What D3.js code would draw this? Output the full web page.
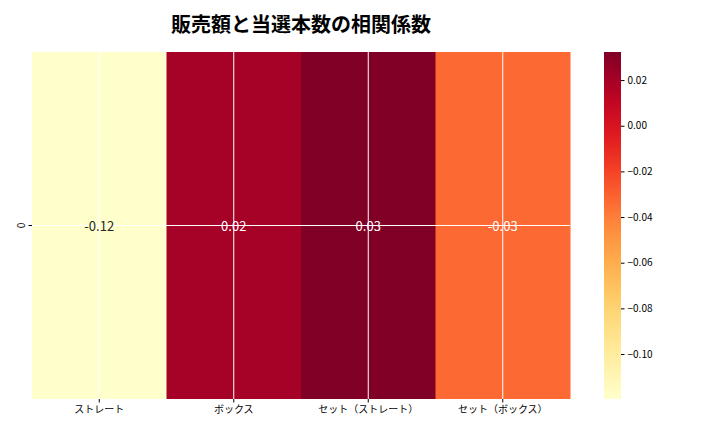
<!DOCTYPE html>
<html>
<head>
<meta charset="utf-8">
<script src="https://cdn.jsdelivr.net/npm/d3@7"></script>
<style>
  body { margin: 0; background: #fff; }
  text { font-family: "Noto Sans CJK JP", "Noto Sans", sans-serif; }
</style>
</head>
<body>
<div id="chart"></div>
<script>
// heatmap of correlation coefficients: one row, four columns
const title = '販売額と当選本数の相関係数'
const categories = ['ストレート', 'ボックス', 'セット（ストレート）', 'セット（ボックス）']
const rowLabels = ['0']
const values = [-0.1197, 0.0201, 0.0323, -0.0330]
const colorbarTicks = [0.02, 0.00, -0.02, -0.04, -0.06, -0.08, -0.10]

const width = 720
const height = 432
const margin = { top: 52, left: 32, right: 150, bottom: 33 }
const plotW = width - margin.left - margin.right
const plotH = height - margin.top - margin.bottom

const svg = d3.select('#chart').append('svg')
  .attr('width', width)
  .attr('height', height)

const vmin = d3.min(values)
const vmax = d3.max(values)
const color = d3.scaleSequential(d3.interpolateYlOrRd).domain([vmin, vmax])

const x = d3.scaleBand().domain(categories).range([0, plotW])
const y = d3.scaleBand().domain(rowLabels).range([0, plotH])

const g = svg.append('g')
  .attr('transform', 'translate(' + margin.left + ',' + margin.top + ')')

const cells = categories.map((c, i) => ({ cat: c, row: rowLabels[0], value: values[i] }))

g.selectAll('rect.cell')
  .data(cells).enter()
  .append('rect')
  .attr('class', 'cell')
  .attr('x', d => x(d.cat))
  .attr('y', d => y(d.row))
  .attr('width', x.bandwidth() + 0.5)
  .attr('height', y.bandwidth())
  .attr('fill', d => color(d.value))

// white grid lines at the tick positions
g.selectAll('line.vgrid')
  .data(categories).enter()
  .append('line')
  .attr('x1', d => x(d) + x.bandwidth() / 2)
  .attr('x2', d => x(d) + x.bandwidth() / 2)
  .attr('y1', 0)
  .attr('y2', plotH)
  .attr('stroke', '#fff')
  .attr('stroke-width', 1)
g.selectAll('line.hgrid')
  .data(rowLabels).enter()
  .append('line')
  .attr('x1', 0)
  .attr('x2', plotW)
  .attr('y1', d => y(d) + y.bandwidth() / 2)
  .attr('y2', d => y(d) + y.bandwidth() / 2)
  .attr('stroke', '#fff')
  .attr('stroke-width', 1)

// annotations (plain hyphen, like the source)
g.selectAll('text.annot')
  .data(cells).enter()
  .append('text')
  .attr('x', d => x(d.cat) + x.bandwidth() / 2)
  .attr('y', d => y(d.row) + y.bandwidth() / 2)
  .attr('text-anchor', 'middle')
  .attr('dominant-baseline', 'central')
  .attr('font-size', 13)
  .attr('fill', d => (d.value - vmin) / (vmax - vmin) < 0.5 ? '#262626' : '#fff')
  .text(d => d.value.toFixed(2))

// axes
const xAxis = g.append('g')
  .attr('transform', 'translate(0,' + plotH + ')')
  .call(d3.axisBottom(x).tickSize(3.5).tickPadding(3))
xAxis.select('.domain').remove()
xAxis.selectAll('text').attr('font-size', 10).attr('fill', '#000')
  .style('font-family', '"Noto Sans CJK JP", sans-serif')

const yAxis = g.append('g')
  .call(d3.axisLeft(y).tickSize(3.5).tickPadding(3))
yAxis.select('.domain').remove()
yAxis.selectAll('text')
  .attr('font-size', 10).attr('fill', '#000')
  .attr('text-anchor', 'middle')
  .attr('dominant-baseline', 'central')
  .attr('x', -12).attr('dy', null)
  .attr('transform', 'rotate(-90,-12,0)')
  .style('font-family', '"Noto Sans CJK JP", sans-serif')

// colorbar
const cbX = 604
const cbW = 17
const cb = d3.scaleLinear().domain([vmin, vmax]).range([margin.top + plotH, margin.top])

const defs = svg.append('defs')
const grad = defs.append('linearGradient')
  .attr('id', 'cbgrad')
  .attr('x1', 0).attr('x2', 0).attr('y1', 1).attr('y2', 0)
d3.range(0, 1.0001, 0.05).forEach(t => {
  grad.append('stop').attr('offset', t).attr('stop-color', d3.interpolateYlOrRd(t))
})
svg.append('rect')
  .attr('x', cbX).attr('y', margin.top)
  .attr('width', cbW).attr('height', plotH)
  .attr('fill', 'url(#cbgrad)')

const cbAxis = svg.append('g')
  .attr('transform', 'translate(' + (cbX + cbW) + ',0)')
  .call(d3.axisRight(cb).tickValues(colorbarTicks).tickSize(3.5).tickPadding(3)
    .tickFormat(d => d3.format('.2f')(d)))
cbAxis.select('.domain').remove()
cbAxis.selectAll('text').attr('font-size', 10).attr('fill', '#000')
  .style('font-family', '"Noto Sans CJK JP", sans-serif')

// title
svg.append('text')
  .attr('x', margin.left + plotW / 2)
  .attr('y', 32)
  .attr('text-anchor', 'middle')
  .attr('font-size', 20)
  .attr('font-weight', 'bold')
  .attr('fill', '#000')
  .text(title)
</script>
</body>
</html>
